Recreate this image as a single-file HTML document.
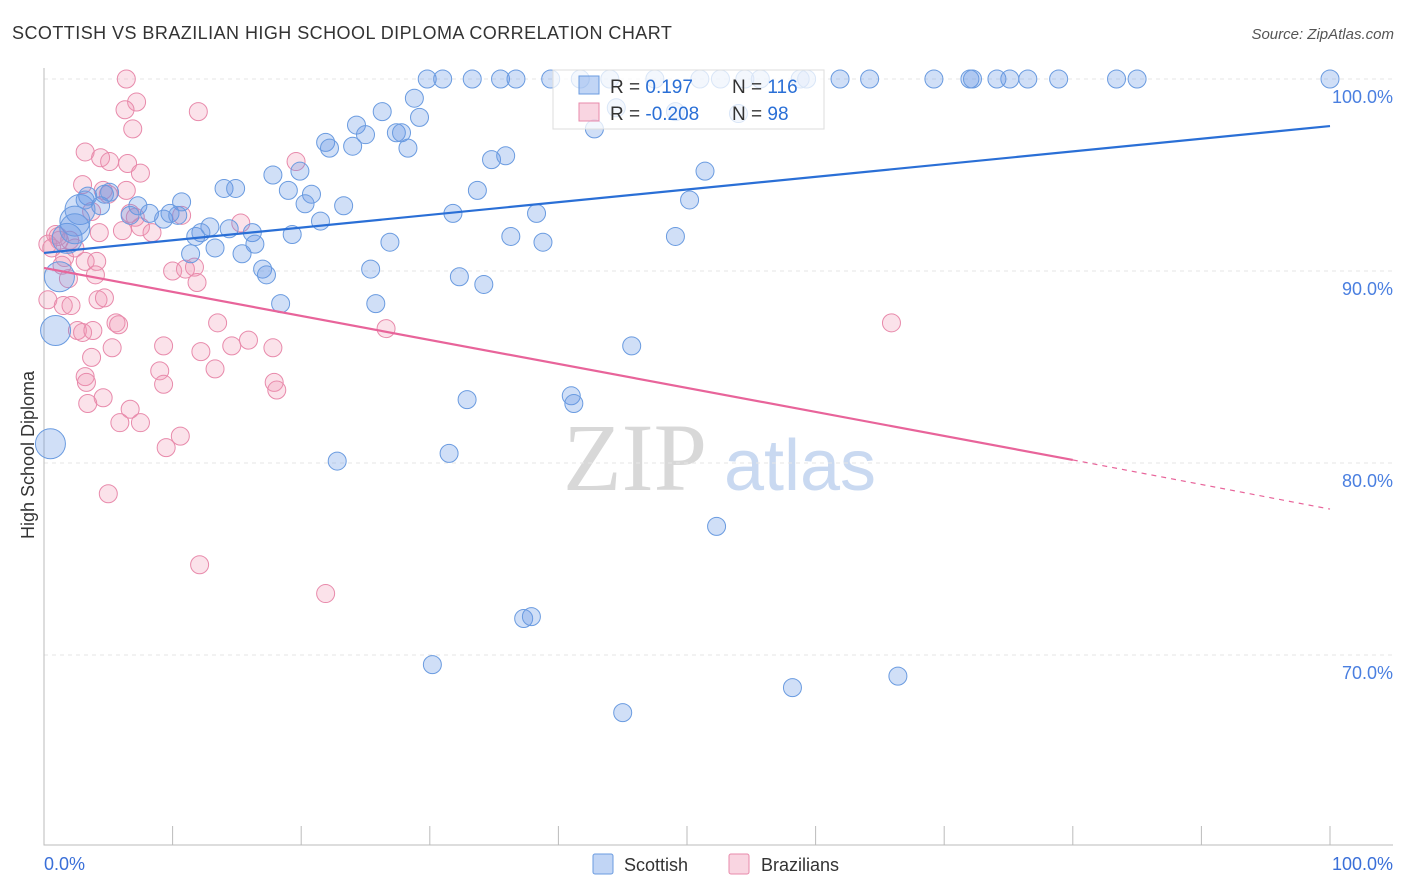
<!DOCTYPE html>
<html><head><meta charset="utf-8"><style>
body{margin:0;background:#fff;font-family:"Liberation Sans",sans-serif;}
svg{display:block}
</style></head><body>
<svg id="chart" width="1406" height="892">
<text x="12" y="39" font-size="18" fill="#333" letter-spacing="0.45">SCOTTISH VS BRAZILIAN HIGH SCHOOL DIPLOMA CORRELATION CHART</text>
<text x="1394" y="39" font-size="15" fill="#555" text-anchor="end" font-style="italic">Source: ZipAtlas.com</text>
<g>
<text x="635" y="490" font-size="96" font-family="Liberation Serif,serif" fill="#d8d8d8" text-anchor="middle">ZIP</text>
<text x="800" y="490" font-size="72" fill="#c9d9f1" text-anchor="middle">atlas</text>
</g>
<g id="grid"></g>
<g id="axes"></g>
<g id="pts"></g>
<g id="lines"></g>
<text transform="translate(34,455) rotate(-90)" font-size="18" fill="#333" text-anchor="middle">High School Diploma</text>
<text x="44" y="870" font-size="18" fill="#3a6fd8">0.0%</text>
<text x="1393" y="870" font-size="18" fill="#3a6fd8" text-anchor="end">100.0%</text>
<g>
<rect x="553" y="70" width="271" height="59" fill="rgba(255,255,255,0.75)" stroke="#ddd"/>
<rect x="579" y="76" width="20" height="18" fill="rgba(100,150,230,0.4)" stroke="#6a9be0"/>
<rect x="579" y="103" width="20" height="18" fill="rgba(240,150,180,0.4)" stroke="#e88aab"/>
<text x="610" y="93" font-size="19" fill="#333">R = <tspan fill="#2a6fd6"> 0.197</tspan></text>
<text x="732" y="93" font-size="19" fill="#333">N = <tspan fill="#2a6fd6">116</tspan></text>
<text x="610" y="120" font-size="19" fill="#333">R = <tspan fill="#2a6fd6">-0.208</tspan></text>
<text x="732" y="120" font-size="19" fill="#333">N = <tspan fill="#2a6fd6"> 98</tspan></text>
</g>
<g>
<rect x="593" y="854" width="20" height="20" fill="rgba(100,150,230,0.4)" stroke="#6a9be0" rx="2"/>
<text x="624" y="871" font-size="18" fill="#333">Scottish</text>
<rect x="729" y="854" width="20" height="20" fill="rgba(240,150,180,0.4)" stroke="#e88aab" rx="2"/>
<text x="761" y="871" font-size="18" fill="#333">Brazilians</text>
</g>
</svg>
<script>
const yTicks=[100,90,80,70];
const yTickLabels=["100.0%","90.0%","80.0%","70.0%"];
const blueX=[29.8,31.0,33.3,35.5,36.7,39.4,41.7,44.0,47.5,51.0,52.6,54.5,55.7,58.8,59.3,61.9,64.2,69.2,72.0,72.2,74.1,75.1,76.5,78.9,83.4,85.0,100,28.8,26.3,29.2,24.3,25.0,27.4,27.8,21.9,22.2,24.0,28.3,42.8,44.5,49.1,54.0,34.8,35.9,51.4,17.8,19.9,14.0,14.9,19.0,20.8,20.3,23.3,33.7,10.7,7.3,6.7,4.4,3.4,4.7,5.1,2.8,2.4,3.2,8.2,9.3,9.8,10.4,12.9,14.4,12.2,11.8,16.2,19.3,21.5,31.8,38.3,50.2,16.4,13.3,11.4,15.4,26.9,36.3,38.8,49.1,17.0,17.3,25.4,32.3,34.2,18.4,25.8,45.7,41.0,41.2,32.9,31.5,22.8,52.3,37.3,37.9,30.2,45.0,58.2,66.4,0.5,0.9,1.2,1.8,2.4];
const blueY=[100,100,100,100,100,100,100,100,100,100,100,100,100,100,100,100,100,100,100,100,100,100,100,100,100,100,100,99.0,98.3,98.0,97.6,97.1,97.2,97.2,96.7,96.4,96.5,96.4,97.4,98.5,98.3,98.2,95.8,96.0,95.2,95.0,95.2,94.3,94.3,94.2,94.0,93.5,93.4,94.2,93.6,93.4,92.9,93.4,93.9,94.0,94.1,93.2,92.6,93.7,93.0,92.7,93.0,92.9,92.3,92.2,92.0,91.8,92.0,91.9,92.6,93.0,93.0,93.7,91.4,91.2,90.9,90.9,91.5,91.8,91.5,91.8,90.1,89.8,90.1,89.7,89.3,88.3,88.3,86.1,83.5,83.1,83.3,80.5,80.1,76.7,71.9,72.0,69.5,67.0,68.3,68.9,81.0,86.9,89.7,91.7,92.2];
const blueBig=[0,0,0,0,0,0,0,0,0,0,0,0,0,0,0,0,0,0,0,0,0,0,0,0,0,0,0,0,0,0,0,0,0,0,0,0,0,0,0,0,0,0,0,0,0,0,0,0,0,0,0,0,0,0,0,0,0,0,0,0,0,1,1,0,0,0,0,0,0,0,0,0,0,0,0,0,0,0,0,0,0,0,0,0,0,0,0,0,0,0,0,0,0,0,0,0,0,0,0,0,0,0,0,0,0,0,1,1,1,1,1];
const pinkX=[6.4,7.2,6.3,12.0,6.9,3.2,4.4,5.1,6.5,7.5,3.0,4.6,6.4,5.0,3.7,6.7,7.1,10.7,7.5,4.3,6.1,8.4,15.3,19.6,0.9,1.2,0.3,2.0,2.4,1.6,3.2,4.1,4.0,1.4,1.9,10.0,11.0,11.7,11.9,0.3,1.5,2.1,4.2,4.7,5.6,5.8,13.5,26.6,65.9,2.6,3.0,3.8,5.3,9.3,12.2,14.6,15.9,17.8,3.7,13.3,9.0,9.3,17.9,18.1,3.2,3.3,4.6,6.7,3.4,5.9,7.5,10.6,9.5,5.0,12.1,21.9,0.6,1.1];
const pinkY=[100,98.8,98.4,98.3,97.4,96.2,95.9,95.7,95.6,95.1,94.5,94.2,94.2,94.0,93.1,93.0,92.8,92.9,92.3,92.0,92.1,92.0,92.5,95.7,91.9,91.6,91.4,91.6,91.2,90.7,90.5,90.5,89.8,90.3,89.6,90.0,90.1,90.2,89.4,88.5,88.2,88.2,88.5,88.6,87.3,87.2,87.3,87.0,87.3,86.9,86.8,86.9,86.0,86.1,85.8,86.1,86.4,86.0,85.5,84.9,84.8,84.1,84.2,83.8,84.5,84.2,83.4,82.8,83.1,82.1,82.1,81.4,80.8,78.4,74.7,73.2,91.2,91.8];
const blueTrend=[90.94,97.55];
const pinkTrend=[90.16,80.16,77.6];
const NS="http://www.w3.org/2000/svg";
const sx=v=>44+v*12.86;
const sy=v=>79+(100-v)*19.2;
function mk(tag,attrs,parent){const e=document.createElementNS(NS,tag);for(const k in attrs)e.setAttribute(k,attrs[k]);parent.appendChild(e);return e;}
const grid=document.getElementById('grid'),axes=document.getElementById('axes'),pts=document.getElementById('pts'),lines=document.getElementById('lines');
yTicks.forEach((t,i)=>{
 const g=mk('line',{x1:44,x2:1393,y1:sy(t),y2:sy(t),stroke:'#e6e6e6','stroke-dasharray':'4,4'},grid);
 
 
 const l=mk('text',{x:1393,y:sy(t)+24,'font-size':18,fill:'#4a7fe0','text-anchor':'end'},grid);
 l.textContent=yTickLabels[i];
 
 
});
const ax=mk('path',{d:'M44,68V845H1393',fill:'none',stroke:'#bbb'},axes);


for(let i=1;i<=10;i++){const t=mk('line',{x1:sx(i*10),x2:sx(i*10),y1:826,y2:845,stroke:'#bbb'},axes);
 
 }
pinkX.forEach((x,i)=>{const c=mk('circle',{cx:sx(x),cy:sy(pinkY[i]),r:9,fill:'rgba(240,150,180,0.28)',stroke:'#e88aab','stroke-width':1},pts);
 
 });
blueX.forEach((x,i)=>{const c=mk('circle',{cx:sx(x),cy:sy(blueY[i]),r:blueBig[i]?15:9,fill:'rgba(100,150,230,0.3)',stroke:'#6a9be0','stroke-width':1},pts);
 
 });
const bl=mk('line',{x1:sx(0),y1:sy(blueTrend[0]),x2:sx(100),y2:sy(blueTrend[1]),stroke:'#2a6fd6','stroke-width':2.2},lines);


const pl=mk('line',{x1:sx(0),y1:sy(pinkTrend[0]),x2:sx(80),y2:sy(pinkTrend[1]),stroke:'#e8649a','stroke-width':2.2},lines);


const pd=mk('line',{x1:sx(80),y1:sy(pinkTrend[1]),x2:sx(100),y2:sy(pinkTrend[2]),stroke:'#e8649a','stroke-width':1.2,'stroke-dasharray':'5,5'},lines);


</script>
</body></html>
